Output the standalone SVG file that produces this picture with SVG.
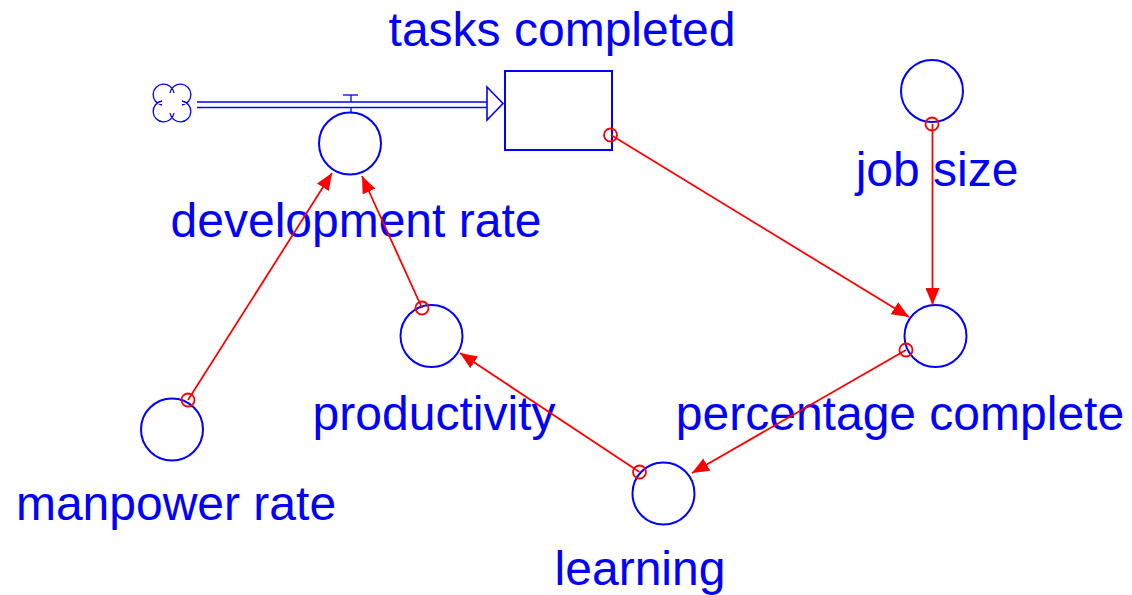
<svg xmlns="http://www.w3.org/2000/svg" width="1132" height="595" viewBox="0 0 1132 595">
<style>
.lbl{font-family:"Liberation Sans",Arial,sans-serif;font-size:48px;fill:#0000ff;text-anchor:middle}
.aux{fill:none;stroke:#0000ff;stroke-width:2}
.link{stroke:#ff0000;stroke-width:1.8;fill:none}
.src{fill:none;stroke:#ff0000;stroke-width:1.8}
.pipe{stroke:#0000ff;stroke-width:1.3;fill:none}
</style>
<defs>
<marker id="ah" markerUnits="userSpaceOnUse" markerWidth="17" markerHeight="14" refX="17" refY="7" orient="auto">
<path d="M0,0 L17,7 L0,14 z" fill="#ff0000"/>
</marker>
</defs>
<rect width="1132" height="595" fill="#ffffff"/>

<g id="cloud">
<path class="pipe" stroke-width="2" d="M162,105 A10.5,10.5 0 1 1 174,93 M170,93 A10.5,10.5 0 1 1 182,105 M182,101 A10.5,10.5 0 1 1 170,113 M174,113 A10.5,10.5 0 1 1 162,101"/>
</g>

<g id="flow-development">
<line class="pipe" x1="197" y1="102" x2="489" y2="102"/>
<line class="pipe" x1="197" y1="107.5" x2="489" y2="107.5"/>
<polygon points="487,87 503,103.5 487,120" fill="#ffffff" stroke="#0000ff" stroke-width="1.6"/>
<line class="pipe" x1="343" y1="95" x2="358" y2="95"/>
<line class="pipe" x1="351" y1="95" x2="351" y2="102"/>
<line class="pipe" x1="351" y1="107.5" x2="351" y2="113"/>
</g>

<g id="tasks-completed">
<rect x="505" y="71" width="107" height="79" class="aux"/>
<text class="lbl" x="562" y="46">tasks completed</text>
</g>

<g id="development-rate">
<circle class="aux" cx="350" cy="143.5" r="31"/>
<text class="lbl" x="356" y="237">development rate</text>
</g>

<g id="job-size">
<circle class="aux" cx="932" cy="91" r="31"/>
<text class="lbl" x="937" y="186">job size</text>
</g>

<g id="percentage-complete">
<circle class="aux" cx="935.5" cy="336" r="31"/>
<text class="lbl" x="900" y="430">percentage complete</text>
</g>

<g id="productivity">
<circle class="aux" cx="431.5" cy="336" r="31"/>
<text class="lbl" x="434" y="430">productivity</text>
</g>

<g id="manpower-rate">
<circle class="aux" cx="172" cy="429.5" r="31"/>
<text class="lbl" x="176" y="520">manpower rate</text>
</g>

<g id="learning">
<circle class="aux" cx="663.5" cy="493.5" r="31"/>
<text class="lbl" x="640" y="585">learning</text>
</g>

<g id="connectors">
<line class="link" stroke-width="1.1" x1="932.5" y1="124" x2="932.5" y2="305" marker-end="url(#ah)"/>
<circle class="src" cx="932" cy="124" r="6.5"/>
<line class="link" x1="611" y1="135" x2="909" y2="317" marker-end="url(#ah)"/>
<circle class="src" cx="610.5" cy="135" r="6.5"/>
<line class="link" x1="906" y1="350" x2="692" y2="473" marker-end="url(#ah)"/>
<circle class="src" cx="906" cy="350" r="6.5"/>
<line class="link" x1="639.5" y1="472" x2="460" y2="353" marker-end="url(#ah)"/>
<circle class="src" cx="639.5" cy="472" r="6.5"/>
<line class="link" x1="422" y1="308" x2="362" y2="176" marker-end="url(#ah)"/>
<circle class="src" cx="422" cy="308" r="6.5"/>
<line class="link" x1="188" y1="400" x2="332" y2="173" marker-end="url(#ah)"/>
<circle class="src" cx="188" cy="400" r="6.5"/>
</g>
</svg>
